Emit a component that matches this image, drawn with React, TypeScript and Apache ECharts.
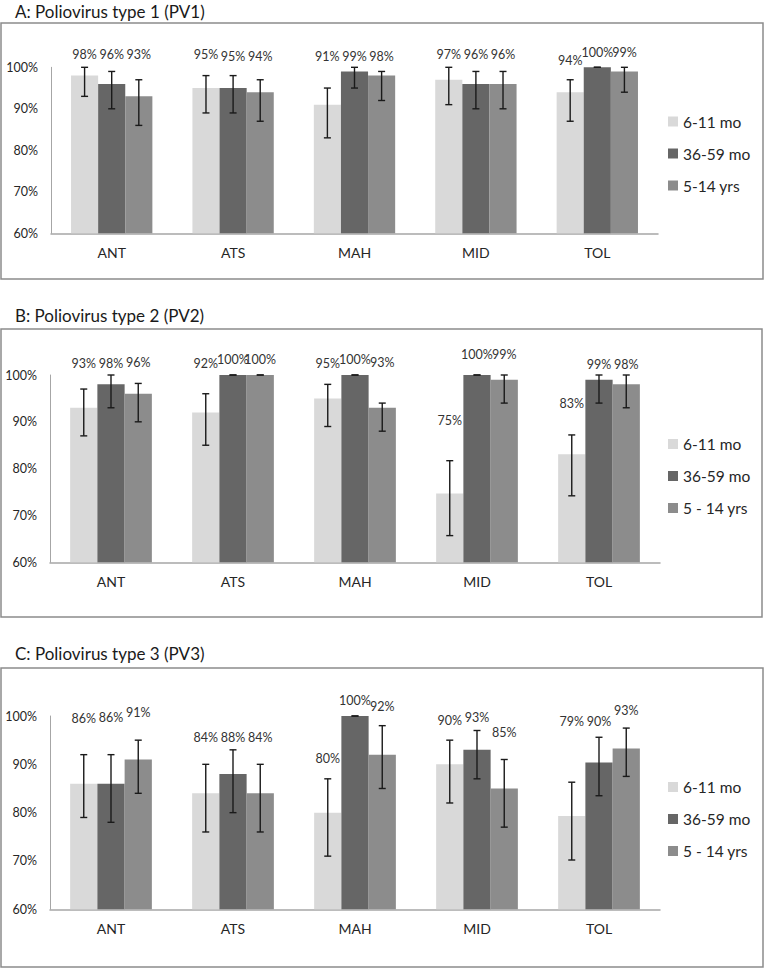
import React, { useEffect, useRef } from "react";
import * as echarts from "echarts";

const FONT = "Lato, 'Open Sans', sans-serif";

const categories = ["ANT", "ATS", "MAH", "MID", "TOL"];
const groupNamesA = ["6-11 mo", "36-59 mo", "5-14 yrs"];
const groupNamesBC = ["6-11 mo", "36-59 mo", "5 - 14 yrs"];
const groupColors = ["#d9d9d9", "#666666", "#8c8c8c"];
const panelTitles = ["A: Poliovirus type 1 (PV1)", "B: Poliovirus type 2 (PV2)", "C: Poliovirus type 3 (PV3)"];
const yTicks = [60, 70, 80, 90, 100];

// PV1 (rows: 6-11 mo, 36-59 mo, 5-14 yrs; columns: categories)
const pv1Values = [
  [98, 95, 91, 97, 94],
  [96, 95, 99, 96, 100],
  [93, 94, 98, 96, 99],
];
const pv1Lower = [
  [93, 89, 83, 91, 87],
  [90, 89, 95, 90, 100],
  [86, 87, 92, 90, 94],
];
const pv1Upper = [
  [100, 98, 95, 100, 97],
  [99, 98, 100, 99, 100],
  [97, 97, 99, 99, 100],
];
const pv1LabelAt = [
  [103, 103, 102.6, 103, 101.7],
  [103, 102.7, 102.7, 103, 103.5],
  [103, 102.7, 102.7, 103, 103.5],
];

// PV2
const pv2Values = [
  [93, 92, 95, 74.7, 83.1],
  [98, 100, 100, 100, 99],
  [96, 100, 93, 99, 98],
];
const pv2Lower = [
  [87, 85, 89, 65.7, 74.2],
  [93, 100, 100, 100, 94],
  [90, 100, 88, 94, 93],
];
const pv2Upper = [
  [97, 96, 98, 81.7, 87.2],
  [100, 100, 100, 100, 100],
  [98.2, 100, 94, 100, 100],
];
const pv2LabelAt = [
  [102.4, 102.4, 102.4, 90.3, 94],
  [102.5, 103.4, 103.4, 104.3, 102.3],
  [102.7, 103.4, 102.7, 104.3, 102.3],
];

// PV3
const pv3Values = [
  [86, 84, 80, 90, 79.3],
  [86, 88, 100, 93, 90.4],
  [91, 84, 92, 85, 93.3],
];
const pv3Lower = [
  [79, 76, 71, 82, 70.2],
  [78, 80, 100, 87, 83.5],
  [84, 76, 85, 77, 87.5],
];
const pv3Upper = [
  [92, 90, 87, 95, 86.3],
  [92, 93, 100, 97, 95.6],
  [95, 90, 98, 91, 97.5],
];
const pv3LabelAt = [
  [99.4, 95.6, 91.3, 99, 98.8],
  [99.6, 95.6, 103.3, 99.6, 98.8],
  [100.7, 95.6, 101.9, 96.6, 101.1],
];

const panels = [
  { names: groupNamesA, values: pv1Values, lower: pv1Lower, upper: pv1Upper, labelAt: pv1LabelAt,
    box: { x: 1, y: 23, w: 762, h: 256 }, titleY: 11,
    grid: { left: 51, top: 67.3, width: 607, height: 166 }, legendTop: 113.5 },
  { names: groupNamesBC, values: pv2Values, lower: pv2Lower, upper: pv2Upper, labelAt: pv2LabelAt,
    box: { x: 1, y: 329, w: 761, h: 288 }, titleY: 315,
    grid: { left: 50, top: 375, width: 610, height: 187.3 }, legendTop: 436 },
  { names: groupNamesBC, values: pv3Values, lower: pv3Lower, upper: pv3Upper, labelAt: pv3LabelAt,
    box: { x: 1, y: 668, w: 762, h: 299 }, titleY: 653,
    grid: { left: 50, top: 716, width: 610, height: 193.3 }, legendTop: 779 },
];

const CAT_GAP = 0.33;

function renderErr(params: any, api: any) {
  const cat = api.value(0);
  const g = api.value(1);
  const lo = api.value(2);
  const hi = api.value(3);
  const val = api.value(4);
  const at = api.value(5);
  const band = api.size([1, 0])[0];
  const bw = (band * (1 - CAT_GAP)) / 3;
  const pHi = api.coord([cat, hi]);
  const cx = pHi[0] + (g - 1) * bw;
  const yHi = pHi[1];
  const yLo = api.coord([cat, lo])[1];
  const yLab = api.coord([cat, at])[1];
  const cap = 3.5;
  const st = { stroke: "#1a1a1a", lineWidth: 1.4 };
  return {
    type: "group",
    children: [
      { type: "line", shape: { x1: cx, y1: yHi, x2: cx, y2: yLo }, style: st },
      { type: "line", shape: { x1: cx - cap, y1: yHi, x2: cx + cap, y2: yHi }, style: st },
      { type: "line", shape: { x1: cx - cap, y1: yLo, x2: cx + cap, y2: yLo }, style: st },
      {
        type: "text",
        x: cx,
        y: yLab,
        style: {
          text: Math.round(val) + "%",
          fontSize: 12.5,
          fontFamily: FONT,
          fill: "#333333",
          align: "center",
          verticalAlign: "middle",
        },
      },
    ],
  };
}

function buildOption() {
  const grid: any[] = [];
  const xAxis: any[] = [];
  const yAxis: any[] = [];
  const legend: any[] = [];
  const series: any[] = [];
  const graphic: any[] = [];

  panels.forEach((p, pi) => {
    graphic.push({
      type: "rect",
      shape: { x: p.box.x, y: p.box.y, width: p.box.w, height: p.box.h },
      style: { fill: "none", stroke: "#8c8c8c", lineWidth: 1.5 },
      silent: true,
    });
    graphic.push({
      type: "text",
      x: 15,
      y: p.titleY,
      style: {
        text: panelTitles[pi],
        fontSize: 17,
        fontFamily: FONT,
        fill: "#1a1a1a",
        verticalAlign: "middle",
      },
    });
    grid.push({ ...p.grid, containLabel: false });
    xAxis.push({
      type: "category",
      gridIndex: pi,
      data: categories,
      axisTick: { show: false },
      axisLine: { lineStyle: { color: "#a6a6a6", width: 1.5 } },
      axisLabel: { fontSize: 14, color: "#262626", margin: 12, fontFamily: FONT },
    });
    yAxis.push({
      type: "value",
      gridIndex: pi,
      min: yTicks[0],
      max: yTicks[yTicks.length - 1],
      interval: 10,
      splitLine: { show: false },
      axisTick: { show: false },
      axisLine: { show: true, lineStyle: { color: "#a6a6a6", width: 1 } },
      axisLabel: { fontSize: 12.5, color: "#262626", margin: 13, formatter: "{value}%", fontFamily: FONT },
    });
    legend.push({
      orient: "vertical",
      left: 668,
      top: p.legendTop,
      padding: 0,
      itemWidth: 10,
      itemHeight: 10,
      itemGap: 16,
      icon: "rect",
      data: p.names,
      selectedMode: false,
      textStyle: { fontSize: 15.5, lineHeight: 15, color: "#262626", fontFamily: FONT },
    });
    const errData: number[][] = [];
    p.names.forEach((name, g) => {
      series.push({
        type: "bar",
        name,
        xAxisIndex: pi,
        yAxisIndex: pi,
        data: p.values[g],
        barGap: "0%",
        barCategoryGap: CAT_GAP * 100 + "%",
        itemStyle: { color: groupColors[g] },
        silent: true,
      });
      categories.forEach((_, ci) => {
        errData.push([ci, g, p.lower[g][ci], p.upper[g][ci], p.values[g][ci], p.labelAt[g][ci]]);
      });
    });
    series.push({
      type: "custom",
      name: "err" + pi,
      xAxisIndex: pi,
      yAxisIndex: pi,
      data: errData,
      encode: { x: 0, y: 4 },
      renderItem: renderErr,
      z: 10,
      silent: true,
    });
  });

  return {
    animation: false,
    backgroundColor: "#ffffff",
    textStyle: { fontFamily: FONT },
    graphic,
    grid,
    xAxis,
    yAxis,
    legend,
    series,
  };
}

export default function App() {
  const ref = useRef<HTMLDivElement>(null);
  useEffect(() => {
    if (!ref.current) return;
    const chart = echarts.init(ref.current, undefined, { renderer: "svg" });
    chart.setOption(buildOption() as any);
    return () => chart.dispose();
  }, []);
  return (
    <div
      ref={ref}
      style={{ position: "absolute", left: 0, top: 0, width: 765, height: 968, background: "#fff" }}
    />
  );
}
